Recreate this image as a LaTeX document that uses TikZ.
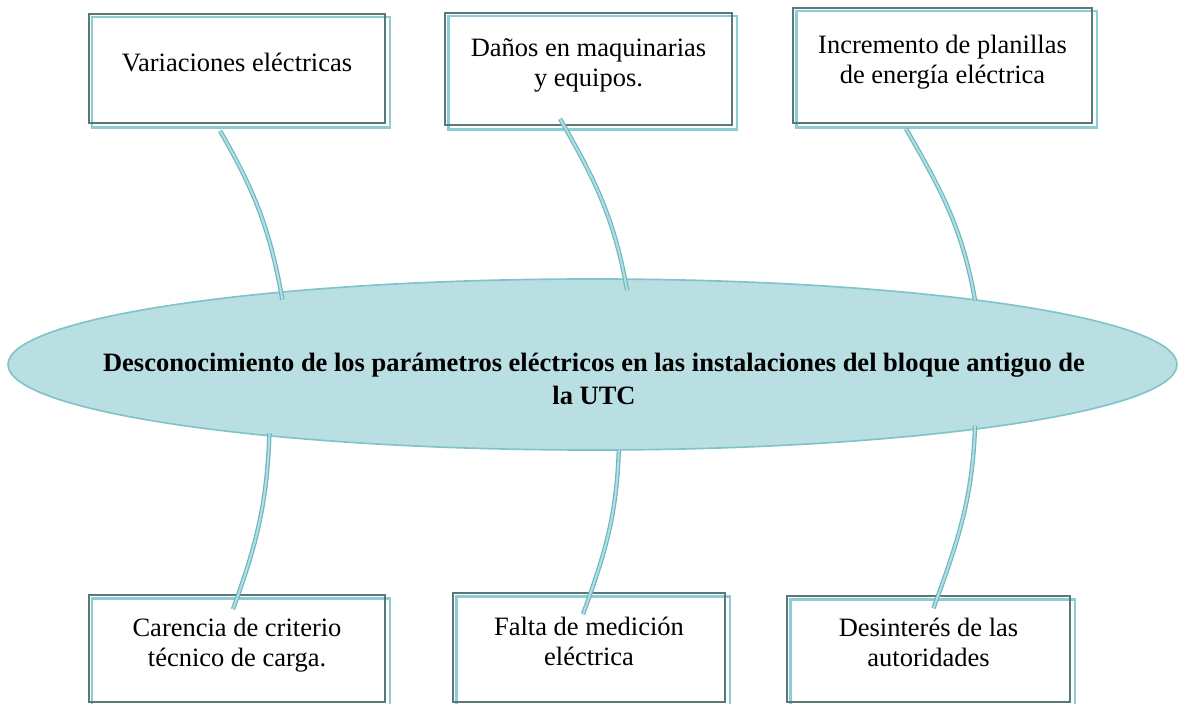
\documentclass[tikz,border=0pt]{standalone}
\usepackage{fontspec}
\setmainfont{Liberation Serif}
\usetikzlibrary{shapes.geometric,backgrounds}
\definecolor{cfill}{RGB}{185,223,227}
\definecolor{cedge}{RGB}{128,196,202}
\definecolor{cdark}{RGB}{88,120,122}
\definecolor{clight}{RGB}{140,205,211}
\definecolor{ccord}{RGB}{108,184,193}
\definecolor{ccordin}{RGB}{180,222,226}
\tikzset{
  csize/.style 2 args={minimum width=#1*0.453pt,minimum height=#2*0.453pt},
  cbox/.style={draw=cdark,line width=0.75pt,align=center,inner sep=0pt,text depth=6pt,font=\fontsize{12}{13.6}\selectfont},
  cshade/.style={draw=clight,line width=1.2pt},
  cprob/.style={ellipse,draw=cedge,fill=cfill,line width=0.75pt,inner sep=0pt},
  cprobtxt/.style={align=center,font=\bfseries\fontsize{12}{15}\selectfont},
  ccon/.style={draw=ccord,line width=0.55pt,double=ccordin,double distance=0.9pt},
}
\begin{document}
\begin{tikzpicture}[x=0.453pt,y=-0.453pt]
\useasboundingbox (0,0) rectangle (1178,704);
% ---- the problem, in the middle
\node[cprob,csize={1169}{171}] (prob) at (592.5,364.5) {};
\node[cprobtxt] (probtxt) at (594,379) {Desconocimiento de los parámetros eléctricos en las instalaciones del bloque antiguo de\\la UTC};
% ---- effects, on top
\node[cbox,csize={296}{109}] (var) at (237,68.5) {Variaciones eléctricas};
\node[cbox,csize={287}{112}] (dan) at (588.5,69) {Daños en maquinarias\\y equipos.};
\node[cbox,csize={299}{115}] (inc) at (942.5,65.5) {Incremento de planillas\\de energía eléctrica};
% ---- causes, below
\node[cbox,csize={296}{107}] (car) at (237,648.5) {Carencia de criterio\\técnico de carga.};
\node[cbox,csize={272}{109}] (fal) at (589,647.5) {Falta de medición\\eléctrica};
\node[cbox,csize={283}{106}] (des) at (928.5,649) {Desinterés de las\\autoridades};
% light frames, behind
\begin{scope}[on background layer]
  \foreach \b in {var,dan,inc,car,fal,des}
    \draw[cshade] ([shift={(4,4)}]\b.north west) rectangle ([shift={(4,4)}]\b.south east);
\end{scope}
% ---- cords
\draw[ccon] ([shift={(-17,7)}]var.south) to[out=-60,in=100] ([shift={(5,8)}]prob.167);
\draw[ccon] ([shift={(-28.5,-7)}]dan.south) to[out=-60,in=100] ([shift={(-2,12)}]prob.67);
\draw[ccon] ([shift={(-36.5,5)}]inc.south) to[out=-60,in=100] ([shift={(7,2)}]prob.10);
\draw[ccon] ([shift={(-8,-4)}]prob.193) to[out=-92,in=70] ([shift={(-4,15)}]car.north);
\draw[ccon] ([shift={(0,-1)}]prob.287) to[out=-92,in=70] ([shift={(-6,22)}]fal.north);
\draw[ccon] ([shift={(7,-5)}]prob.350) to[out=-92,in=70] ([shift={(5,13)}]des.north);
\end{tikzpicture}
\end{document}
